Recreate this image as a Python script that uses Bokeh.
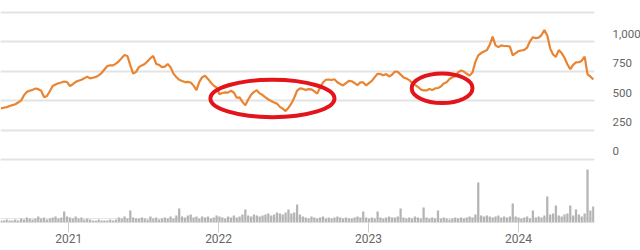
import pandas as pd
from bokeh.plotting import figure
from bokeh.models import (Range1d, LinearAxis, FixedTicker, Grid,
                          DatetimeAxis, DatetimeTickFormatter, NumeralTickFormatter)
from bokeh.embed import file_html
from bokeh.resources import INLINE

# ---------------- data ----------------
start_date = "2020-07-20"          # first weekly observation
price = [
    434, 440, 445, 455, 462, 470, 485, 500, 545, 575,
    585, 592, 604, 598, 585, 530, 540, 580, 625, 638,
    648, 655, 663, 658, 625, 640, 660, 670, 678, 690,
    705, 690, 695, 702, 715, 735, 765, 795, 800, 800,
    815, 835, 862, 888, 880, 800, 730, 745, 785, 800,
    812, 835, 862, 880, 812, 805, 785, 790, 812, 785,
    730, 700, 678, 668, 658, 660, 655, 628, 590, 660,
    700, 712, 685, 655, 628, 612, 555, 565, 570, 568,
    585, 570, 525, 528, 490, 460, 510, 550, 575, 588,
    562, 548, 528, 510, 498, 485, 475, 448, 432, 412,
    440, 475, 525, 585, 605, 600, 592, 598, 596, 580,
    560, 612, 655, 678, 680, 676, 682, 657, 642, 630,
    650, 668, 665, 650, 632, 657, 655, 630, 650, 668,
    700, 729, 726, 716, 726, 706, 720, 748, 745, 722,
    698, 688, 675, 650, 635, 618, 596, 587, 587, 600,
    590, 605, 608, 620, 647, 657, 684, 699, 708, 740,
    757, 748, 729, 714, 740, 830, 885, 905, 918, 930,
    975, 1045, 970, 955, 970, 965, 965, 960, 885, 905,
    922, 927, 932, 952, 1005, 1040, 1032, 1036, 1058, 1100,
    1055, 945, 893, 872, 930, 905, 865, 810, 768, 805,
    825, 827, 840, 875, 725, 705, 680,
]
volume = [
    2, 2, 3, 2, 2, 3, 2, 4, 3, 5,
    4, 3, 4, 6, 4, 5, 3, 4, 5, 6,
    4, 5, 11, 6, 5, 4, 6, 4, 5, 3,
    4, 3, 2, 2, 3, 2, 2, 2, 3, 2,
    3, 5, 4, 6, 4, 12, 5, 4, 4, 5,
    4, 3, 6, 4, 5, 3, 4, 5, 4, 6,
    4, 7, 14, 6, 5, 7, 8, 5, 6, 4,
    6, 5, 6, 4, 5, 7, 6, 5, 4, 6,
    5, 7, 5, 6, 8, 13, 7, 6, 8, 7,
    6, 7, 8, 9, 7, 8, 10, 9, 8, 10,
    13, 9, 10, 18, 8, 6, 5, 4, 6, 5,
    4, 5, 6, 4, 5, 4, 5, 6, 5, 4,
    5, 4, 4, 5, 6, 5, 11, 5, 4, 5,
    4, 11, 5, 4, 5, 6, 5, 5, 6, 14,
    5, 4, 5, 4, 6, 5, 4, 15, 5, 4,
    5, 4, 12, 4, 5, 4, 3, 4, 5, 4,
    5, 4, 5, 6, 5, 8, 40, 7, 6, 7,
    6, 5, 6, 7, 5, 6, 5, 6, 19, 6,
    5, 4, 5, 6, 4, 12, 5, 6, 5, 7,
    26, 8, 9, 17, 7, 6, 8, 9, 17, 7,
    13, 8, 6, 9, 53, 12, 16,
]
year_ticks = [2021, 2022, 2023, 2024]
price_ticks = [0, 250, 500, 750, 1000]
grid_levels = [0, 250, 500, 750, 1000, 1250]

dates = pd.date_range(start_date, periods=len(price), freq="7D")

# ---------------- figure ----------------
PRICE_LO, PRICE_HI = -536, 1352
LABEL_SHIFT = 68   # labels sit a little above their grid line

p = figure(frame_width=594, frame_height=222, output_backend="svg",
           toolbar_location=None, x_axis_type=None, y_axis_location=None,
           min_border_left=0, min_border_right=46, min_border_top=0,
           min_border_bottom=28,
           x_range=Range1d(dates[0] - pd.Timedelta(days=1), dates[-1] + pd.Timedelta(days=3)),
           y_range=Range1d(PRICE_LO, PRICE_HI))
p.outline_line_color = None
p.background_fill_color = "white"
p.border_fill_color = "white"
p.extra_y_ranges = {
    "vol": Range1d(0, 222),
    "lab": Range1d(PRICE_LO - LABEL_SHIFT, PRICE_HI - LABEL_SHIFT),
}

grid = Grid(dimension=1, ticker=FixedTicker(ticks=grid_levels),
            grid_line_color="#e3e3e3", grid_line_width=2)
p.add_layout(grid)

# volume bars
p.vbar(x=dates, top=volume, bottom=0, width=pd.Timedelta(days=5.5),
       y_range_name="vol", fill_color="#b4b4b4", line_color=None)

# price line
p.line(dates, price, line_color="#e98532", line_width=2.2)

# annotations: red ellipses
p.ellipse(x=[pd.Timestamp("2022-05-12")], y=[519],
          width=pd.Timedelta(days=302).total_seconds() * 1000, height=318,
          fill_color=None, line_color="#e3141b", line_width=4)
p.ellipse(x=[pd.Timestamp("2023-06-29")], y=[606],
          width=pd.Timedelta(days=148).total_seconds() * 1000, height=252,
          fill_color=None, line_color="#e3141b", line_width=4)

# x axis
xaxis = DatetimeAxis(ticker=FixedTicker(ticks=[pd.Timestamp(f"{y}-01-01").value / 1e6 for y in year_ticks]),
                     formatter=DatetimeTickFormatter(years="%Y", months="%Y", days="%Y"))
xaxis.axis_line_color = "#dddddd"
xaxis.major_tick_line_color = "#cccccc"
xaxis.major_tick_out = 10
xaxis.major_tick_in = 0
xaxis.minor_tick_line_color = None
xaxis.major_label_standoff = 1
xaxis.major_label_text_font = "Roboto"
xaxis.major_label_text_font_size = "12px"
xaxis.major_label_text_color = "#666666"
p.add_layout(xaxis, "below")

# right price axis
yaxis = LinearAxis(y_range_name="lab", ticker=FixedTicker(ticks=price_ticks),
                   formatter=NumeralTickFormatter(format="0,0"))
yaxis.axis_line_color = None
yaxis.major_tick_line_color = None
yaxis.minor_tick_line_color = None
yaxis.major_label_standoff = 12
yaxis.major_label_text_font = "Roboto"
yaxis.major_label_text_font_size = "11.5px"
yaxis.major_label_text_color = "#666666"
p.add_layout(yaxis, "right")

open("out.html", "w").write(file_html(p, INLINE))
